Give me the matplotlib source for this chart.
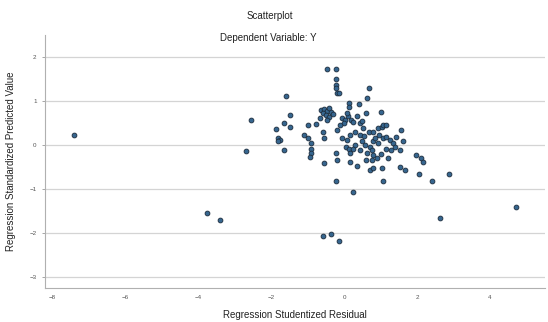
import numpy as np
import matplotlib.pyplot as plt

plt.rcParams['font.family'] = ['Liberation Sans', 'DejaVu Sans']

# Regression Studentized Residual (x) vs Regression Standardized Predicted Value (y)
resid = [
    -7.39, -3.77, -3.41, -2.56, -2.69, 4.72, 2.63, 2.89, 2.41, 2.05,
    -0.59, -0.37, -0.14, 0.24, -0.23,
    -0.48, -0.23, -0.23, -0.23, -0.23, -0.20, -0.15, 0.69, -1.59, 0.62,
    0.13, 0.13, 0.40, 1.01, 0.59, -1.47,
    -0.62, -0.55, -0.48, -0.58, -0.50, -0.42, -0.47, -0.35, -0.30, -0.40, -0.65,
    -0.05, 0.03, 0.10, 0.18, 0.00, -0.10, 0.08, 0.25,
    -1.86, -1.65, -1.49, -1.00, -0.78, -1.80, -1.75, -1.82, -1.65, -1.09,
    -1.00, -0.91, -0.90, -0.91, -0.93, -0.59, -0.55, -0.55, -0.23, -0.19,
    -0.05, 0.08, 0.17, 0.31, 0.44, 0.53, 0.67, 0.04, 0.13, 0.17,
    0.17, 0.35, 0.44, 0.49, 0.58, 0.62, 0.71, 0.80, 0.76, 0.80,
    0.94, 1.03, 1.07, 1.16, 0.85, 0.94, 1.07, 1.16, 1.25, 1.34,
    1.39, 1.30, 1.16, 0.80, 0.89, 0.76, 0.71, 0.80, 1.03, 1.07,
    1.43, 1.57, 1.61, 1.52, 1.52, 1.66, 1.97, 2.11, 2.15,
    0.30, 0.25, 0.55, 0.95, 1.00, 0.45, -0.20, 0.60, 1.20, 0.35, 0.50,
]
pred = [
    0.23, -1.55, -1.70, 0.57, -0.13, -1.40, -1.67, -0.66, -0.83, -0.66,
    -2.06, -2.03, -2.18, -1.06, -0.83,
    1.74, 1.74, 1.49, 1.36, 1.30, 1.19, 1.18, 1.30, 1.12, 1.06,
    0.95, 0.87, 0.93, 0.76, 0.72, 0.68,
    0.80, 0.82, 0.78, 0.72, 0.68, 0.64, 0.56, 0.75, 0.70, 0.85, 0.62,
    0.62, 0.58, 0.66, 0.58, 0.50, 0.45, 0.72, 0.52,
    0.36, 0.49, 0.42, 0.45, 0.48, 0.15, 0.11, 0.08, -0.11, 0.23,
    0.17, 0.04, -0.08, -0.19, -0.27, 0.30, 0.15, -0.40, -0.19, -0.33,
    0.15, 0.11, 0.23, 0.30, 0.23, 0.38, 0.30, -0.04, -0.10, -0.19,
    -0.38, -0.48, -0.11, 0.08, 0.00, -0.19, -0.04, 0.08, -0.11, 0.30,
    0.38, 0.42, 0.45, 0.45, 0.15, 0.04, 0.15, 0.19, 0.11, 0.04,
    -0.04, -0.11, -0.08, -0.23, -0.30, -0.34, -0.57, -0.53, -0.53, -0.83,
    0.19, 0.34, 0.08, -0.11, -0.49, -0.57, -0.23, -0.30, -0.38,
    0.00, -0.10, 0.20, 0.22, -0.20, 0.50, 0.35, -0.35, -0.30, 0.65, 0.55,
]

x_ticks = [-8, -6, -4, -2, 0, 2, 4]
y_ticks = [-3, -2, -1, 0, 1, 2]

fig = plt.figure(figsize=(5.48, 3.22), dpi=100)
ax = fig.add_axes([0.082, 0.106, 0.912, 0.785])

ax.scatter(resid, pred, s=12, facecolor='#36668f', edgecolor='#1c2c3c',
           linewidth=0.6, zorder=3)

ax.set_xlim(-8.2, 5.5)
ax.set_ylim(-3.25, 2.5)
ax.set_xticks(x_ticks)
ax.set_yticks(y_ticks)
ax.yaxis.grid(True, color='#d4d4d4', linewidth=0.9)
ax.set_axisbelow(True)

for s in ['top', 'right']:
    ax.spines[s].set_visible(False)
for s in ['left', 'bottom']:
    ax.spines[s].set_color('#b0b0b0')
    ax.spines[s].set_linewidth(0.8)

ax.tick_params(axis='both', labelsize=4.5, colors='#999999', labelcolor='#555555',
               length=2.5, width=0.6)
ax.tick_params(axis='x', length=0, pad=5)

ax.set_xlabel('Regression Studentized Residual', fontsize=7, color='#222222', labelpad=7)
ax.set_ylabel('Regression Standardized Predicted Value', fontsize=7, color='#222222', labelpad=10)

fig.text(0.493, 1 - 16 / 322, 'Scatterplot', ha='center', va='center', fontsize=7, color='#222222')
fig.text(0.49, 1 - 38 / 322, 'Dependent Variable: Y', ha='center', va='center', fontsize=7, color='#222222')

fig.savefig('out.png', dpi=100)
